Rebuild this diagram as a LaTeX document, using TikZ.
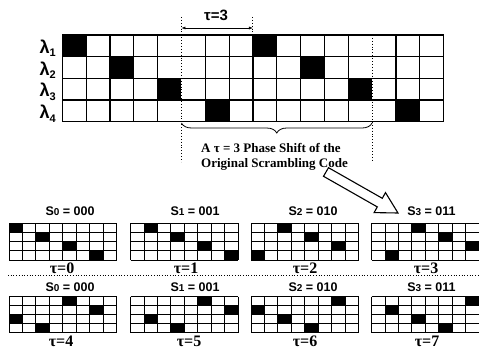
\documentclass[tikz,border=0pt]{standalone}
\usepackage{fontspec}
\setmainfont{Liberation Serif}
\setsansfont{Liberation Sans}
\usetikzlibrary{decorations.pathreplacing,arrows.meta}
\newcommand{\scw}{13.45}
\newcommand{\sgrid}[4]{% x0, y0, tau, row height
  \foreach \r in {0,...,3}{
    \pgfmathtruncatemacro{\cc}{mod(2*\r+#3,8)}
    \fill ({#1+\cc*\scw},{#2+\r*#4}) rectangle ++(\scw,#4);
  }
  \foreach \r in {0,...,4} \draw[sgridl] (#1,{#2+\r*#4}) -- ({#1+8*\scw},{#2+\r*#4});
  \foreach \c in {0,...,8} \draw[sgridl] ({#1+\c*\scw},#2) -- ({#1+\c*\scw},{#2+4*#4});
}
\newcommand{\slab}[2]{S\raisebox{-0.5pt}{\fontsize{10}{10}\selectfont #1} = #2}
\begin{document}
\begin{tikzpicture}[x=1pt,y=-1pt,
  mgrid/.style={line width=1.2pt},
  sgridl/.style={line width=0.9pt},
  dots/.style={dotted, line width=0.9pt},
  lab/.style={font=\sffamily\bfseries\fontsize{12.5}{12.5}\selectfont, inner sep=0},
  taulab/.style={font=\rmfamily\bfseries\fontsize{16}{16}\selectfont, inner sep=0},
  lamlab/.style={font=\sffamily\bfseries\fontsize{18}{18}\selectfont, inner sep=0, anchor=base east},
]
\useasboundingbox (0,0) rectangle (479,350);
% main grid
\def\mx{62.3}\def\my{35}\def\cw{23.83}\def\rh{21.67}
\foreach \r in {0,...,3}{
  \fill ({\mx+2*\r*\cw},{\my+\r*\rh}) rectangle ++(\cw,\rh);
  \fill ({\mx+(2*\r+8)*\cw},{\my+\r*\rh}) rectangle ++(\cw,\rh);
}
\foreach \r in {0,...,4} \draw[mgrid] (\mx,{\my+\r*\rh}) -- ({\mx+16*\cw},{\my+\r*\rh});
\foreach \c in {0,1,2,3,4,6,7,8,9,10,11,12,14,15,16}
  \draw[mgrid] ({\mx+\c*\cw},\my) -- ({\mx+\c*\cw},{\my+4*\rh});
% lambda labels
\foreach \r in {1,...,4}
  \node[lamlab] (lam\r) at (56,{\my+(\r-1)*\rh+18.5}) {λ\raisebox{-3.5pt}{\fontsize{11}{11}\selectfont \r}};
% dotted verticals
\coordinate (d1t) at ({\mx+5*\cw},17);
\coordinate (d1b) at ({\mx+5*\cw},162);
\coordinate (d2t) at ({\mx+8*\cw},17);
\coordinate (d2b) at ({\mx+8*\cw},\my);
\coordinate (d3t) at ({\mx+13*\cw},\my);
\coordinate (d3b) at ({\mx+13*\cw},162);
\draw[dots] (d1t) -- (d1b);
\draw[dots] (d2t) -- (d2b);
\draw[dots] (d3t) -- (d3b);
% tau=3 arrow
\coordinate (a1) at ({\mx+5*\cw},28);
\coordinate (a2) at ({\mx+8*\cw},28);
\draw[{Latex[length=4pt,width=3pt]}-{Latex[length=4pt,width=3pt]}, line width=0.5pt] (a1) -- (a2);
\node[font=\sffamily\bfseries\fontsize{15}{15}\selectfont, inner sep=0] (tau3) at (216,15) {τ=3};
% brace
\coordinate (b1) at ({\mx+5*\cw},123);
\coordinate (b2) at ({\mx+13*\cw},123);
\draw[decorate, decoration={brace, mirror, amplitude=10pt}, line width=0.8pt] (b1) -- (b2);
\node[font=\rmfamily\bfseries\fontsize{13}{15}\selectfont, inner sep=0, anchor=north west, align=left] (txt) at (201,143) {A τ = 3 Phase Shift of the\\Original Scrambling Code};
% big open arrow
\draw[line width=1.1pt, fill=white, line join=miter] (323.5,176.3) -- (377.3,206.9) -- (374.1,212.6) -- (398,213) -- (385.5,192.6) -- (382.3,198.3) -- (328.5,167.7) -- cycle;
% small grids
\sgrid{9}{223.3}{0}{9.2}
\sgrid{130.5}{223.3}{1}{9.2}
\sgrid{251}{223.3}{2}{9.2}
\sgrid{371.5}{223.3}{3}{9.2}
\sgrid{9}{296.7}{4}{9}
\sgrid{130.5}{296.7}{5}{9}
\sgrid{251}{296.7}{6}{9}
\sgrid{371.5}{296.7}{7}{9}
% labels
\node[lab] (s0a) at (70,211) {\slab{0}{000}};
\node[lab] (s1a) at (195,211) {\slab{1}{001}};
\node[lab] (s2a) at (313,211) {\slab{2}{010}};
\node[lab] (s3a) at (431.5,211) {\slab{3}{011}};
\node[lab] (s0b) at (70,287) {\slab{0}{000}};
\node[lab] (s1b) at (195,287) {\slab{1}{001}};
\node[lab] (s2b) at (313,287) {\slab{2}{010}};
\node[lab] (s3b) at (431.5,287) {\slab{3}{011}};
\node[taulab] (t0) at (62,268) {τ=0};
\node[taulab] (t1) at (186,268) {τ=1};
\node[taulab] (t2) at (305,268) {τ=2};
\node[taulab] (t3) at (426,268) {τ=3};
\node[taulab] (t4) at (61,341) {τ=4};
\node[taulab] (t5) at (189,341) {τ=5};
\node[taulab] (t6) at (305,341) {τ=6};
\node[taulab] (t7) at (427,341) {τ=7};
% dotted separator
\coordinate (h1) at (8,275);
\coordinate (h2) at (478,275);
\draw[dotted, line width=0.7pt] (h1) -- (h2);
\end{tikzpicture}
\end{document}
